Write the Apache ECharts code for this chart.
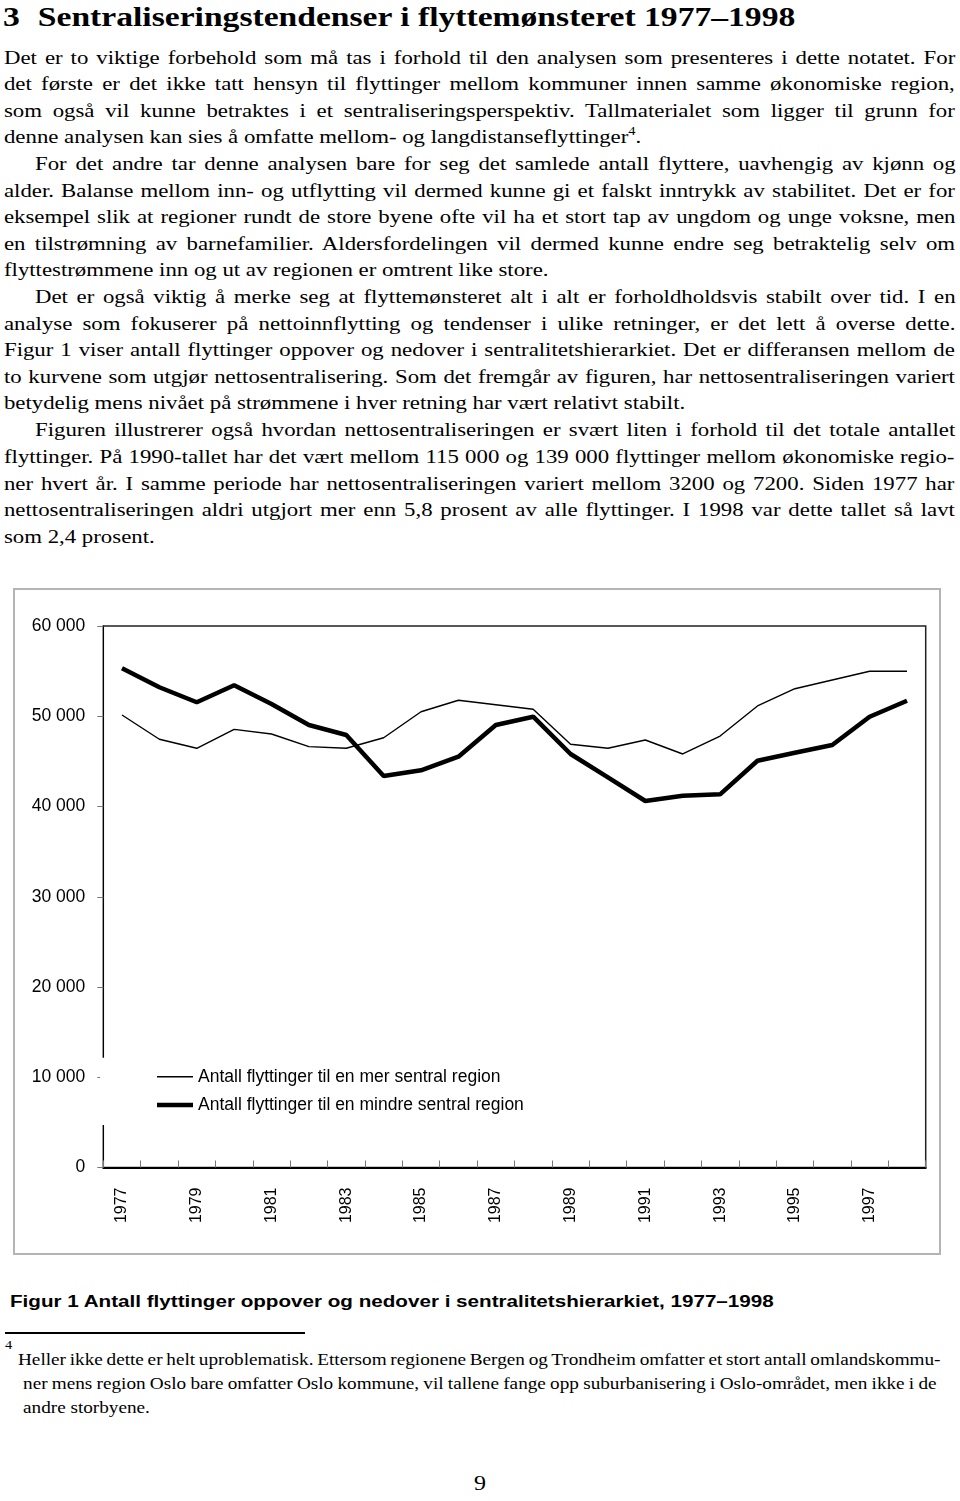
<!DOCTYPE html>
<html>
<head>
<meta charset="utf-8">
<script src="https://cdn.jsdelivr.net/npm/echarts@6/dist/echarts.min.js"></script>
<style>
  html, body { margin:0; padding:0; background:#fff; }
  body { width:960px; height:1501px; position:relative; overflow:hidden; color:#000; }
  #txt { position:absolute; left:0; top:0; width:800px; height:1501px; transform:scaleX(1.2); transform-origin:0 0; }
  .t { position:absolute; font-family:'Liberation Serif','Times New Roman',serif; font-size:19px; line-height:26px; white-space:nowrap; display:inline-block; }
  .fn { position:absolute; font-family:'Liberation Serif','Times New Roman',serif; font-size:16px; line-height:22px; white-space:nowrap; display:inline-block; }
  .full { left:3.3px; }
  .ind { left:29.2px; }
  sup.s { font-size:12px; vertical-align:baseline; position:relative; top:-8px; }
</style>
</head>
<body>
<div id="txt">
<div style="position:absolute;left:2.5px;top:0px;font-family:'Liberation Serif','Times New Roman',serif;font-weight:bold;font-size:28px;line-height:34px;white-space:nowrap;"><span style="display:inline-block;width:29px;">3</span>Sentraliseringstendenser i flyttemønsteret 1977–1998</div>

<div class="t full j" data-w="792.5" style="top:45px">Det er to viktige forbehold som må tas i forhold til den analysen som presenteres i dette notatet. For</div>
<div class="t full j" data-w="792.5" style="top:71px">det første er det ikke tatt hensyn til flyttinger mellom kommuner innen samme økonomiske region,</div>
<div class="t full j" data-w="792.5" style="top:98px">som også vil kunne betraktes i et sentraliseringsperspektiv. Tallmaterialet som ligger til grunn for</div>
<div class="t full" style="top:124px">denne analysen kan sies å omfatte mellom- og langdistanseflyttinger<sup class="s">4</sup>.</div>
<div class="t ind j" data-w="766.7" style="top:151px">For det andre tar denne analysen bare for seg det samlede antall flyttere, uavhengig av kjønn og</div>
<div class="t full j" data-w="792.5" style="top:178px">alder. Balanse mellom inn- og utflytting vil dermed kunne gi et falskt inntrykk av stabilitet. Det er for</div>
<div class="t full j" data-w="792.5" style="top:204px">eksempel slik at regioner rundt de store byene ofte vil ha et stort tap av ungdom og unge voksne, men</div>
<div class="t full j" data-w="792.5" style="top:231px">en tilstrømning av barnefamilier. Aldersfordelingen vil dermed kunne endre seg betraktelig selv om</div>
<div class="t full" style="top:257px">flyttestrømmene inn og ut av regionen er omtrent like store.</div>
<div class="t ind j" data-w="766.7" style="top:284px">Det er også viktig å merke seg at flyttemønsteret alt i alt er forholdholdsvis stabilt over tid. I en</div>
<div class="t full j" data-w="792.5" style="top:311px">analyse som fokuserer på nettoinnflytting og tendenser i ulike retninger, er det lett å overse dette.</div>
<div class="t full j" data-w="792.5" style="top:337px">Figur 1 viser antall flyttinger oppover og nedover i sentralitetshierarkiet. Det er differansen mellom de</div>
<div class="t full j" data-w="792.5" style="top:364px">to kurvene som utgjør nettosentralisering. Som det fremgår av figuren, har nettosentraliseringen variert</div>
<div class="t full" style="top:390px">betydelig mens nivået på strømmene i hver retning har vært relativt stabilt.</div>
<div class="t ind j" data-w="766.7" style="top:417px">Figuren illustrerer også hvordan nettosentraliseringen er svært liten i forhold til det totale antallet</div>
<div class="t full j" data-w="792.5" style="top:444px">flyttinger. På 1990-tallet har det vært mellom 115 000 og 139 000 flyttinger mellom økonomiske regio-</div>
<div class="t full j" data-w="792.5" style="top:471px">ner hvert år. I samme periode har nettosentraliseringen variert mellom 3200 og 7200. Siden 1977 har</div>
<div class="t full j" data-w="792.5" style="top:497px">nettosentraliseringen aldri utgjort mer enn 5,8 prosent av alle flyttinger. I 1998 var dette tallet så lavt</div>
<div class="t full" style="top:524px">som 2,4 prosent.</div>

<div style="position:absolute;left:8.3px;top:1290px;font-family:'Liberation Sans',Arial,sans-serif;font-weight:bold;font-size:17.2px;line-height:22px;white-space:nowrap;">Figur 1 Antall flyttinger oppover og nedover i sentralitetshierarkiet, 1977–1998</div>
<div style="position:absolute;left:4.2px;top:1338px;font-family:'Liberation Serif',serif;font-size:12px;line-height:14px;">4</div>
<div class="fn j" data-w="769" style="left:15px;top:1349px;">Heller ikke dette er helt uproblematisk. Ettersom regionene Bergen og Trondheim omfatter et stort antall omlandskommu-</div>
<div class="fn j" data-w="761.7" style="left:19.2px;top:1373px;">ner mens region Oslo bare omfatter Oslo kommune, vil tallene fange opp suburbanisering i Oslo-området, men ikke i de</div>
<div class="fn" style="left:19.2px;top:1397px;">andre storbyene.</div>
<div style="position:absolute;left:395px;top:1470px;font-family:'Liberation Serif',serif;font-size:20px;line-height:26px;">9</div>
</div>

<div style="position:absolute;left:5px;top:1332px;width:300px;height:1.5px;background:#000;"></div>
<div id="chart" style="position:absolute;left:0;top:570px;width:960px;height:700px;"></div>

<script>
// justify each typeset line to its measured target width
document.querySelectorAll('.j').forEach(el => {
  const target = parseFloat(el.dataset.w);
  const nat = el.offsetWidth;
  const n = (el.textContent.match(/ /g) || []).length;
  if (n > 0) el.style.wordSpacing = ((target - nat) / n) + 'px';
});

const years = ['1977','1978','1979','1980','1981','1982','1983','1984','1985','1986','1987',
               '1988','1989','1990','1991','1992','1993','1994','1995','1996','1997','1998'];
const seriesNames = ['Antall flyttinger til en mer sentral region', 'Antall flyttinger til en mindre sentral region'];
const merSentral = [50140, 47450, 46450, 48550, 48030, 46630, 46450, 47620, 50500, 51770, 51280,
                    50770, 46890, 46450, 47370, 45820, 47810, 51140, 53050, 54020, 54980, 54980];
const mindreSentral = [55310, 53210, 51550, 53430, 51360, 49030, 47920, 43380, 44010, 45520, 49030,
                       49950, 45820, 43230, 40610, 41200, 41350, 45070, 45960, 46810, 49950, 51720];
const yMin = 0, yMax = 60000, yStep = 10000;

const SANS = "'Liberation Sans',Arial,sans-serif";
const thinIcon = 'path://M0,0H0.01V0.01H0Z M35.99,13.99H36V14H35.99Z M0,6.3H36V7.7H0Z';
const thickIcon = 'path://M0,0H0.01V0.01H0Z M35.99,13.99H36V14H35.99Z M0,4.75H36V9.25H0Z';

const chart = echarts.init(document.getElementById('chart'), null, {renderer:'canvas'});
chart.setOption({
  animation: false,
  backgroundColor: 'transparent',
  graphic: [{
    type: 'rect', z: -10, silent: true,
    shape: { x: 14, y: 19, width: 926, height: 665 },
    style: { fill: '#fff', stroke: '#b4b4b4', lineWidth: 2 }
  }],
  grid: { left: 103.3, right: 34.3, top: 56, bottom: 102.5, show: true, borderColor: '#222', borderWidth: 1.5, backgroundColor: 'transparent' },
  legend: {
    orient: 'vertical', left: 100, top: 487.7, z: 10,
    backgroundColor: '#fff',
    padding: [9, 10, 10, 57],
    itemWidth: 36, itemHeight: 14, itemGap: 8.3,
    itemStyle: { color: '#000', borderWidth: 0 },
    textStyle: { fontFamily: SANS, fontSize: 17.5, lineHeight: 20, color: '#000' },
    data: [ { name: seriesNames[0], icon: thinIcon }, { name: seriesNames[1], icon: thickIcon } ]
  },
  xAxis: {
    type: 'category', data: years, boundaryGap: true,
    axisLine: { show: true, lineStyle: { color: '#000', width: 2 } },
    axisTick: { show: true, inside: true, length: 7, interval: 0, lineStyle: { color: '#777', width: 1 } },
    axisLabel: { interval: 1, rotate: 90, margin: 20, fontFamily: SANS, fontSize: 16, color: '#000' },
    splitLine: { show: false }
  },
  yAxis: {
    type: 'value', min: yMin, max: yMax, interval: yStep,
    axisLine: { show: true, lineStyle: { color: '#000', width: 1 } },
    axisTick: { show: true, inside: false, length: 6, lineStyle: { color: '#777' } },
    axisLabel: { margin: 18, fontFamily: SANS, fontSize: 17.5, color: '#000',
      formatter: v => String(v).replace(/\B(?=(\d{3})+(?!\d))/g, ' ') },
    splitLine: { show: false }
  },
  series: [
    { name: seriesNames[0], type: 'line', data: merSentral, showSymbol: false, symbol: 'none',
      lineStyle: { color: '#000', width: 1.4 }, itemStyle: { color: '#000' } },
    { name: seriesNames[1], type: 'line', data: mindreSentral, showSymbol: false, symbol: 'none',
      lineStyle: { color: '#000', width: 4.5 }, itemStyle: { color: '#000' } }
  ]
});
</script>
</body>
</html>
